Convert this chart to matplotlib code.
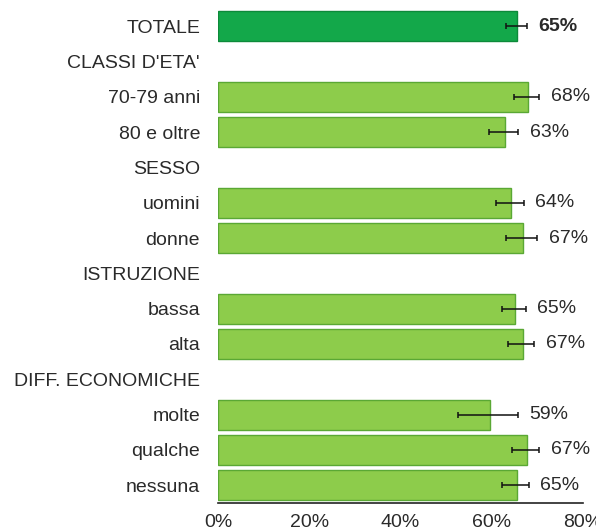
import matplotlib
matplotlib.use("Agg")
import matplotlib.pyplot as plt
import numpy as np

plt.rcParams['font.family'] = ['Liberation Sans', 'DejaVu Sans']

labels = ["TOTALE", "CLASSI D'ETA'", "70-79 anni", "80 e oltre", "SESSO",
          "uomini", "donne", "ISTRUZIONE", "bassa", "alta",
          "DIFF. ECONOMICHE", "molte", "qualche", "nessuna"]
values = [65.5, None, 68.0, 63.0, None, 64.2, 66.8, None, 65.1, 66.9, None, 59.6, 67.8, 65.6]
ci_low = [63.2, None, 64.9, 59.4, None, 61.0, 63.2, None, 62.3, 63.6, None, 52.6, 64.5, 62.3]
ci_high = [67.8, None, 70.4, 65.8, None, 67.1, 70.0, None, 67.5, 69.3, None, 65.8, 70.4, 68.2]
value_labels = ["65%", None, "68%", "63%", None, "64%", "67%", None, "65%", "67%", None, "59%", "67%", "65%"]
xticks = [0, 20, 40, 60, 80]
xticklabels = ["0%", "20%", "40%", "60%", "80%"]

fig = plt.figure(figsize=(5.96, 5.31), dpi=100)
ax = fig.add_axes([0.366, 0.053, 0.612, 0.931])

text_color = "#2a2a2a"
for i, (lab, v) in enumerate(zip(labels, values)):
    if v is None:
        continue
    if i == 0:
        fc, ec = "#13a84a", "#0d8a3a"
    else:
        fc, ec = "#8dcc4b", "#5aa834"
    ax.barh(i, v, height=0.85, color=fc, edgecolor=ec, linewidth=1.0, zorder=2)
    ax.errorbar(v, i, xerr=[[v - ci_low[i]], [ci_high[i] - v]], fmt='none',
                ecolor="#111111", elinewidth=1.1, capsize=2, capthick=1.1, zorder=3)
    ax.text(ci_high[i] + 2.5, i, value_labels[i], va='center', ha='left',
            fontsize=14, color=text_color,
            fontweight='bold' if i == 0 else 'normal')

ax.set_ylim(13.5, -0.5)
ax.set_xlim(0, 80)
ax.set_yticks(range(len(labels)))
ax.set_yticklabels(labels, fontsize=14, color=text_color)
ax.set_xticks(xticks)
ax.set_xticklabels(xticklabels, fontsize=14, color=text_color)
ax.tick_params(axis='y', length=0, pad=13)
ax.tick_params(axis='x', length=0, pad=8)
for s in ['top', 'right', 'left']:
    ax.spines[s].set_visible(False)
ax.spines['bottom'].set_color("#222222")
ax.spines['bottom'].set_linewidth(1.2)

fig.savefig("out.png", dpi=100)
